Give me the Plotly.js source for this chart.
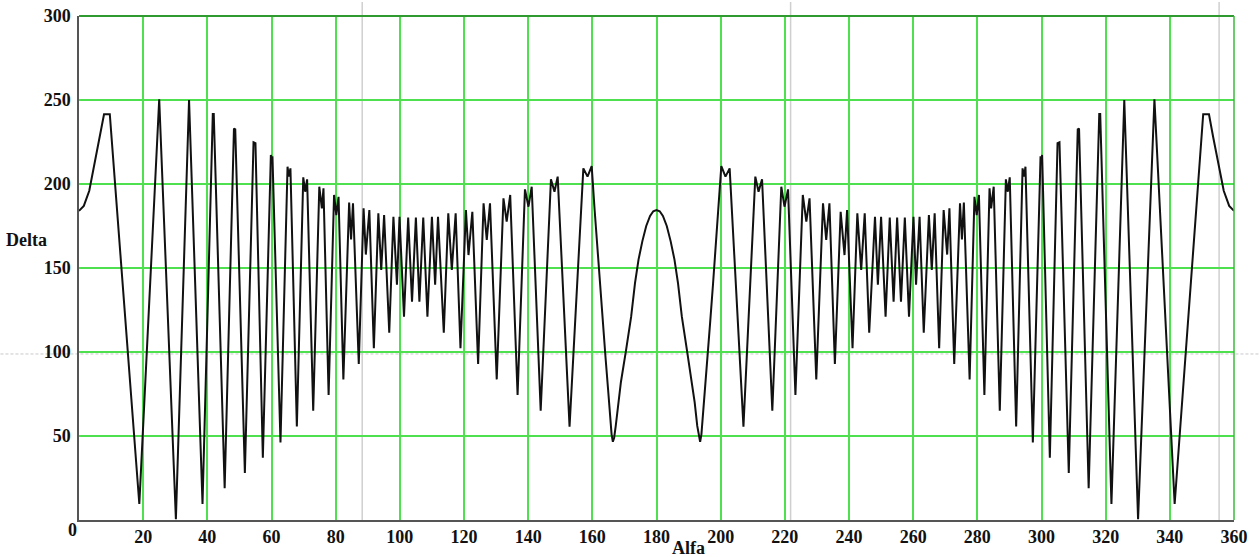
<!DOCTYPE html>
<html>
<head>
<meta charset="utf-8">
<script src="https://cdn.plot.ly/plotly-3.0.1.min.js"></script>
<style>html,body{margin:0;padding:0;background:#fff;}#chart{width:1259px;height:557px;}</style>
</head>
<body>
<div id="chart"></div>
<script>
// Left half of the curve (Alfa 0..180)
const alfaLeft = [0, 1.5, 3.2, 5.3, 6.5, 7.8, 9.6, 18.8, 25.0, 30.2, 34.3, 38.5, 41.7, 42.0, 45.4, 48.3, 48.7, 51.7, 54.4, 55.0, 57.3, 59.8, 60.0, 60.3, 62.8, 65.0, 65.4, 65.9, 67.9, 69.9, 70.5, 71.1, 73.0, 74.9, 75.7, 76.2, 77.8, 79.5, 80.2, 80.9, 82.4, 84.2, 84.8, 85.4, 87.2, 88.7, 89.4, 90.5, 91.9, 93.3, 94.2, 95.1, 96.7, 98.0, 99.1, 99.9, 101.3, 102.6, 103.8, 105.0, 106.1, 107.3, 108.6, 110.0, 111.0, 111.9, 113.7, 115.1, 116.2, 117.4, 118.9, 120.6, 121.4, 122.6, 124.4, 126.1, 127.1, 128.1, 130.2, 132.3, 133.3, 134.4, 136.7, 139.0, 140.1, 141.1, 143.9, 147.1, 148.2, 149.2, 152.9, 157.2, 158.5, 159.8, 160.7, 161.6, 162.4, 163.3, 164.1, 164.9, 165.6, 166.0, 166.4, 166.8, 167.3, 168.1, 168.9, 170.5, 172.1, 173.3, 174.4, 175.6, 176.8, 178.0, 179.0, 180.0];
const deltaLeft = [184, 187, 196, 216, 228, 241.5, 241.5, 9.5, 250.4, 0.5, 250, 9.5, 241.7, 241.7, 18.9, 233, 232.5, 28, 224.8, 224.3, 37, 217.3, 214, 216.5, 46.2, 210.3, 204.4, 209.3, 55.6, 204, 195.4, 202.8, 65, 198.4, 185.5, 197.4, 74.4, 193.5, 181.5, 192.4, 83.7, 189, 167, 188.5, 92.9, 185.5, 158, 184.5, 102.2, 182.5, 148.8, 181.5, 111.5, 180.5, 140, 180.5, 121, 180, 130, 180, 130, 180, 121, 180.5, 140, 180.5, 111.5, 182.5, 148.8, 182.5, 102.2, 184.5, 157.7, 183.5, 92.9, 188.5, 166.7, 188.5, 83.7, 191.5, 177.6, 193.5, 74.4, 196.8, 186.5, 198.4, 65, 202.8, 195.4, 204.4, 55.6, 209.3, 204.4, 210.7, 185, 160, 140, 117, 97, 78, 60, 51, 46.6, 49, 56, 70, 82, 101, 121, 141, 155, 166, 175, 181, 183.8, 184.5];

// Right half of the curve (Alfa 180..360)
const alfaRight = [181.0, 182.0, 183.2, 184.4, 185.6, 186.7, 187.9, 189.5, 191.1, 191.9, 192.7, 193.2, 193.6, 194.0, 194.4, 195.1, 195.9, 196.7, 197.6, 198.4, 199.3, 200.2, 201.5, 202.8, 207.1, 210.8, 211.8, 212.9, 216.1, 218.9, 219.9, 221.0, 223.3, 225.6, 226.7, 227.7, 229.8, 231.9, 232.9, 233.9, 235.6, 237.4, 238.6, 239.4, 241.1, 242.6, 243.8, 244.9, 246.3, 248.1, 249.0, 250.0, 251.4, 252.7, 253.9, 255.0, 256.2, 257.4, 258.7, 260.1, 260.9, 262.0, 263.3, 264.9, 265.8, 266.7, 268.1, 269.5, 270.6, 271.3, 272.8, 274.6, 275.2, 275.8, 277.6, 279.1, 279.8, 280.5, 282.2, 283.8, 284.3, 285.1, 287.0, 288.9, 289.5, 290.1, 292.1, 294.1, 294.6, 295.0, 297.3, 299.7, 300.0, 300.2, 302.6, 305.0, 305.6, 308.5, 311.3, 311.7, 314.7, 318.0, 318.3, 321.8, 325.8, 330.1, 335.2, 341.5, 350.4, 352.2, 353.5, 354.7, 356.8, 358.5, 360];
const deltaRight = [183.8, 181, 175, 166, 155, 141, 121, 101, 82, 70, 56, 49, 46.6, 51, 60, 78, 97, 117, 140, 160, 185, 210.7, 204.4, 209.3, 55.6, 204.4, 195.4, 202.8, 65, 198.4, 186.5, 196.8, 74.4, 193.5, 177.6, 191.5, 83.7, 188.5, 166.7, 188.5, 92.9, 183.5, 157.7, 184.5, 102.2, 182.5, 148.8, 182.5, 111.5, 180.5, 140, 180.5, 121, 180, 130, 180, 130, 180, 121, 180.5, 140, 180.5, 111.5, 181.5, 148.8, 182.5, 102.2, 184.5, 158, 185.5, 92.9, 188.5, 167, 189, 83.7, 192.4, 181.5, 193.5, 74.4, 197.4, 185.5, 198.4, 65, 202.8, 195.4, 204, 55.6, 209.3, 204.4, 210.3, 46.2, 216.5, 214, 217.3, 37, 224.3, 224.8, 28, 232.5, 233, 18.9, 241.7, 241.7, 9.5, 250, 0.5, 250.4, 9.5, 241.5, 241.5, 228, 216, 196, 187, 184];

const xTickVals = [20, 40, 60, 80, 100, 120, 140, 160, 180, 200, 220, 240, 260, 280, 300, 320, 340, 360];
const xTickText = ["20", "40", "60", "80", "100", "120", "140", "160", "180", "200", "220", "240", "260", "280", "300", "320", "340", "360"];
const yTickVals = [50, 100, 150, 200, 250, 300];
const yTickText = ["50", "100", "150", "200", "250", "300"];
const originLabel = "0";
const xTitle = "Alfa";
const yTitle = "Delta";

const alfa = alfaLeft.concat(alfaRight);
const delta = deltaLeft.concat(deltaRight);

const GRID = "#4ee04e";
const labelFont = {family: "'Liberation Serif', 'Times New Roman', serif", size: 18, color: "#111", weight: "bold"};

const trace = {
  type: "scatter", mode: "lines", x: alfa, y: delta,
  line: {color: "#111", width: 2}, hoverinfo: "x+y", showlegend: false
};

const layout = {
  width: 1259, height: 557,
  margin: {l: 79, r: 25, t: 16, b: 37, pad: 0},
  paper_bgcolor: "#fff", plot_bgcolor: "#fff",
  font: {family: "'Liberation Serif', 'Times New Roman', serif"},
  showlegend: false,
  xaxis: {
    range: [0, 360], tickmode: "array", tickvals: xTickVals, ticktext: xTickText,
    showgrid: true, gridcolor: GRID, gridwidth: 1.5, zeroline: false,
    showline: true, linecolor: "#555", linewidth: 1.5, ticks: "",
    tickfont: labelFont, fixedrange: true
  },
  yaxis: {
    range: [0, 300], tickmode: "array", tickvals: yTickVals, ticktext: yTickText,
    showgrid: true, gridcolor: GRID, gridwidth: 1.5, zeroline: false,
    showline: true, linecolor: "#555", linewidth: 1.5, ticks: "",
    tickfont: labelFont, ticklabelstandoff: 3, fixedrange: true
  },
  shapes: [
    {type: "line", xref: "paper", yref: "paper", x0: 0, x1: 1, y0: 1, y1: 1, line: {color: "#2f9a2f", width: 2}},
    {type: "line", xref: "paper", yref: "paper", x0: 1, x1: 1, y0: 0, y1: 1, line: {color: "#3cb83c", width: 1.5}},
    {type: "line", layer: "between", xref: "paper", yref: "paper", x0: 0.2452, x1: 0.2452, y0: 0, y1: 1.028, line: {color: "#cfcfcf", width: 1.5}},
    {type: "line", layer: "between", xref: "paper", yref: "paper", x0: 0.6161, x1: 0.6161, y0: 0, y1: 1.028, line: {color: "#cfcfcf", width: 1.5}},
    {type: "line", layer: "between", xref: "paper", yref: "paper", x0: 0.9871, x1: 0.9871, y0: 0, y1: 1.028, line: {color: "#cfcfcf", width: 1.5}},
    {type: "line", layer: "between", xref: "paper", yref: "paper", x0: -0.068, x1: 1.0215, y0: 0.3294, y1: 0.3294, line: {color: "#c8c8c8", width: 1, dash: "3px,2px"}}
  ],
  annotations: [
    {text: originLabel, xref: "paper", yref: "paper", x: -0.0059, y: -0.0198, xanchor: "center", yanchor: "middle", showarrow: false, font: labelFont},
    {text: yTitle, xref: "paper", yref: "paper", x: -0.0453, y: 0.5556, xanchor: "center", yanchor: "middle", showarrow: false, font: labelFont},
    {text: xTitle, xref: "paper", yref: "paper", x: 0.5273, y: -0.0556, xanchor: "center", yanchor: "middle", showarrow: false, font: labelFont}
  ]
};

Plotly.newPlot("chart", [trace], layout, {displayModeBar: false});
</script>
</body>
</html>
